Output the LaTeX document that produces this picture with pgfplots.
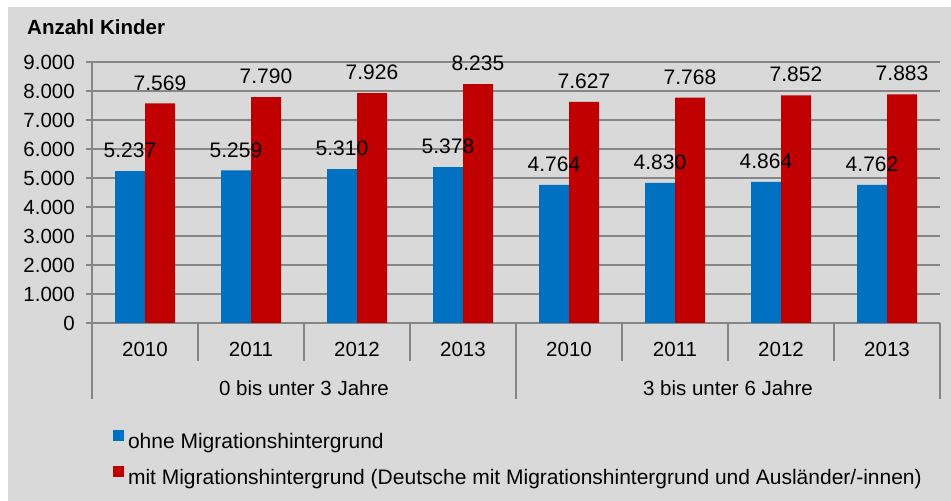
\documentclass[border=0pt]{standalone}
\usepackage{pgfplots}
\pgfplotsset{compat=1.18}
\usepackage{fontspec}
\setmainfont{Liberation Sans}
\definecolor{bgc}{HTML}{D9D9D9}
\definecolor{gridc}{HTML}{868686}
\definecolor{blu}{HTML}{0070C0}
\definecolor{rd}{HTML}{C00000}
\newcommand\ff{\fontsize{20.5bp}{24bp}\selectfont}
\newcommand\fl{\fontsize{21bp}{25bp}\selectfont}
\begin{document}
\begin{tikzpicture}[x=1bp,y=1bp]
\path[use as bounding box, fill=white] (0,0) rectangle (951,501);
\fill[bgc] (8,0) rectangle (951,494);
\node[anchor=base west, inner sep=0pt, font=\bfseries\ff] at (27,466) {Anzahl Kinder};
\begin{axis}[
  at={(92bp,178bp)}, anchor=south west,
  scale only axis, width=848bp, height=261bp,
  xmin=-0.5, xmax=7.5, ymin=0, ymax=9000,
  axis x line*=bottom, axis y line*=left,
  axis line style={gridc, line width=1.3bp, -},
  ytick={0,1000,...,9000},
  ymajorgrids, grid style={gridc, line width=1.2bp},
  tick align=outside, major tick length=6bp,
  ytick style={gridc, line width=1.2bp},
  xtick={0,...,7},
  xticklabels={2010,2011,2012,2013,2010,2011,2012,2013},
  xtick style={draw=none},
  yticklabel style={font=\ff, inner sep=0pt, xshift=-11bp},
  xticklabel style={font=\ff, inner sep=0pt, anchor=north, yshift=-13bp},
  /pgf/number format/1000 sep={.},
  /pgf/number format/assume math mode=true,
  ybar=0pt, bar width=30bp,
  nodes near coords,
  nodes near coords style={font=\fl, inner sep=0pt, anchor=south, yshift=13bp, text=black},
  clip=false,
  legend style={at={(axis description cs:0.0248,-0.41)}, anchor=north west,
    draw=none, fill=none, inner sep=0pt, outer sep=0pt,
    column sep=4bp, row sep=14bp,
    nodes={inner sep=0pt, text height=15bp, text depth=4bp, font=\fl}},
  legend cell align=left,
]
\addplot[fill=blu, draw=none, legend image code/.code={\fill[blu] (0bp,1.5bp) rectangle (11bp,12.5bp);}]
  coordinates {(0,5237) (1,5259) (2,5310) (3,5378) (4,4764) (5,4830) (6,4864) (7,4762)};
\addplot[fill=rd, draw=none, legend image code/.code={\fill[rd] (0bp,1.5bp) rectangle (11bp,12.5bp);}]
  coordinates {(0,7569) (1,7790) (2,7926) (3,8235) (4,7627) (5,7768) (6,7852) (7,7883)};
\legend{ohne Migrationshintergrund, mit Migrationshintergrund (Deutsche mit Migrationshintergrund und Ausländer/-innen)}
\pgfplotsinvokeforeach{0.5,1.5,2.5,4.5,5.5,6.5}{
  \draw[gridc, line width=1.2bp] (axis cs:#1,0) -- ++(0pt,-38bp);
}
\pgfplotsinvokeforeach{-0.5,3.5,7.5}{
  \draw[gridc, line width=1.2bp] (axis cs:#1,0) -- ++(0pt,-76bp);
}
\node[font=\ff, inner sep=0pt, yshift=-65bp] at (axis cs:1.5,0) {0 bis unter 3 Jahre};
\node[font=\ff, inner sep=0pt, yshift=-65bp] at (axis cs:5.5,0) {3 bis unter 6 Jahre};
\end{axis}
\end{tikzpicture}
\end{document}
